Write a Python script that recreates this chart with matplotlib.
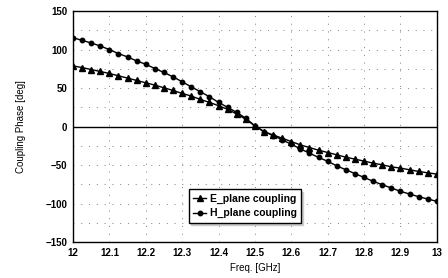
import matplotlib
matplotlib.use("Agg")
import matplotlib.pyplot as plt
from matplotlib.ticker import MultipleLocator

freq = [12.0 + 0.025 * i for i in range(41)]

e_plane = [78.9, 76.7, 74.1, 71.6, 69.0, 66.0, 63.0, 60.0, 56.9, 53.9,
           50.4, 47.0, 43.1, 39.7, 35.3, 31.5, 27.2, 22.4, 16.4, 9.5,
           1.0, -6.5, -10.8, -15.0, -19.4, -23.7, -27.2, -30.6, -33.6, -36.6,
           -39.7, -42.2, -44.8, -47.4, -49.6, -52.2, -53.9, -56.0, -58.2, -60.0,
           -61.6]

h_plane = [115.5, 112.0, 108.6, 104.7, 100.0, 94.8, 90.5, 85.3, 81.0, 75.4,
           70.3, 64.7, 58.2, 51.7, 45.3, 38.8, 31.5, 25.0, 18.5, 10.8,
           1.0, -6.5, -11.6, -17.2, -22.8, -28.9, -34.5, -40.0, -45.0, -51.0,
           -56.0, -61.0, -66.0, -71.0, -75.4, -79.7, -84.0, -87.5, -91.0, -94.0,
           -97.0]

x_ticks = [12.0, 12.1, 12.2, 12.3, 12.4, 12.5, 12.6, 12.7, 12.8, 12.9, 13.0]
x_labels = ["12", "12.1", "12.2", "12.3", "12.4", "12.5", "12.6", "12.7", "12.8", "12.9", "13"]

plt.rcParams['font.family'] = ['Liberation Sans', 'DejaVu Sans']
plt.rcParams['font.weight'] = 'bold'

fig = plt.figure(figsize=(4.48, 2.78), dpi=100)
ax = fig.add_axes([0.163, 0.129, 0.812, 0.831])

ax.plot(freq, e_plane, color="black", lw=1, marker="^", ms=4, label="E_plane coupling")
ax.plot(freq, h_plane, color="black", lw=1, marker="o", ms=3.2, label="H_plane coupling")
ax.axhline(0, color="black", lw=1)

ax.set_xlim(12, 13)
ax.set_ylim(-150, 150)
ax.set_xticks(x_ticks)
ax.set_xticklabels(x_labels)
ax.yaxis.set_major_locator(MultipleLocator(50))
ax.yaxis.set_minor_locator(MultipleLocator(25))
ax.grid(True, which="both", axis="y", color="gray", ls=(0, (1, 7)), lw=0.7)
ax.grid(True, which="major", axis="x", color="gray", ls=(0, (1, 7)), lw=0.7)
ax.tick_params(which="both", length=0, labelsize=7, pad=4)
for s in ax.spines.values():
    s.set_linewidth(1)

ax.set_xlabel("Freq. [GHz]", fontsize=7, labelpad=4)
ax.set_ylabel("Coupling Phase [deg]", fontsize=7, labelpad=14)

leg = ax.legend(loc="lower left", bbox_to_anchor=(0.318, 0.085), fontsize=7.5,
                frameon=True, fancybox=False, shadow={"color": "0.8", "alpha": 1},
                edgecolor="black", borderpad=0.4, handlelength=1.3,
                handletextpad=0.3, labelspacing=0.45, borderaxespad=0)
leg.get_frame().set_linewidth(1)

fig.savefig("out.png", dpi=100)
